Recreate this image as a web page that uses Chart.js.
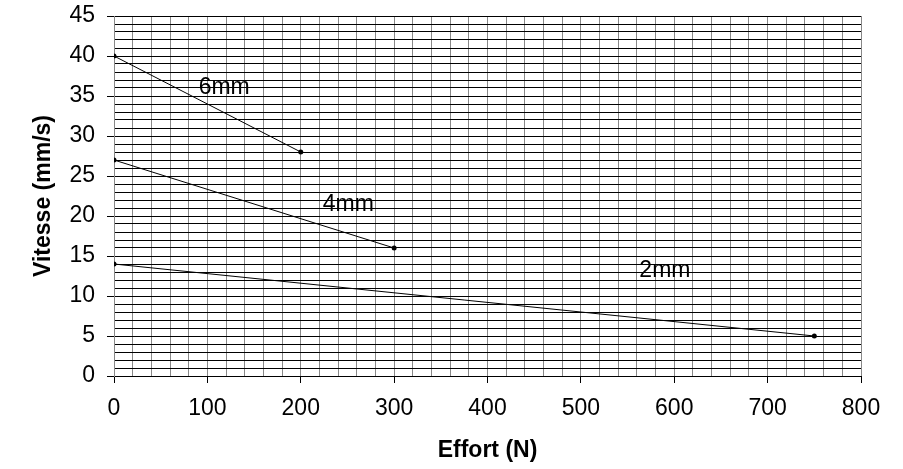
<!DOCTYPE html>
<html>
<head>
<meta charset="utf-8">
<script src="https://cdn.jsdelivr.net/npm/chart.js@4/dist/chart.umd.min.js"></script>
<style>
  html, body { margin: 0; padding: 0; background: #fff; }
  #wrap { width: 903px; height: 469px; }
</style>
</head>
<body>
<div id="wrap"><canvas id="chart"></canvas></div>
<script>
// données
const seriesNames = ['6mm', '4mm', '2mm'];
const effort6 = [0, 200];
const vitesse6 = [40, 28];
const effort4 = [0, 300];
const vitesse4 = [27, 16];
const effort2 = [0, 750];
const vitesse2 = [14, 5];
// position des étiquettes (unités des axes)
const labelX = [118, 251, 590];
const labelY = [36.1, 21.4, 13.2];

const FONT = "'Liberation Sans', Arial, sans-serif";

function toPoints(xs, ys) {
    return xs.map((x, i) => ({ x: x, y: ys[i] }));
}

function lineSet(xs, ys, name) {
    return {
        label: name,
        data: toPoints(xs, ys),
        showLine: true,
        borderColor: '#000',
        borderWidth: 1,
        pointRadius: 2.5,
        pointBackgroundColor: '#000',
        pointBorderWidth: 0
    };
}

// étiquettes de texte sur les courbes
const seriesLabels = {
    id: 'seriesLabels',
    afterDatasetsDraw(chart) {
        const ctx = chart.ctx;
        const xs = chart.scales.x, ys = chart.scales.y;
        ctx.save();
        ctx.font = '23px ' + FONT;
        ctx.fillStyle = '#000';
        ctx.textAlign = 'center';
        ctx.textBaseline = 'middle';
        seriesNames.forEach((n, i) => {
            ctx.fillText(n, xs.getPixelForValue(labelX[i]), ys.getPixelForValue(labelY[i]));
        });
        ctx.restore();
    }
};

new Chart(document.getElementById('chart'), {
    type: 'scatter',
    data: {
        datasets: [
            lineSet(effort6, vitesse6, seriesNames[0]),
            lineSet(effort4, vitesse4, seriesNames[1]),
            lineSet(effort2, vitesse2, seriesNames[2])
        ]
    },
    options: {
        responsive: true,
        maintainAspectRatio: false,
        animation: false,
        layout: { padding: { top: 16, right: 42, left: 0, bottom: 0 } },
        plugins: { legend: { display: false }, tooltip: { enabled: false } },
        scales: {
            x: {
                type: 'linear',
                min: 0,
                max: 800,
                afterFit(scale) {
                    scale.height = 93;
                    scale.paddingLeft = 0;
                    scale.paddingRight = 0;
                },
                ticks: {
                    stepSize: 20,
                    autoSkip: false,
                    maxTicksLimit: 100,
                    maxRotation: 0,
                    padding: 12,
                    color: '#000',
                    font: { family: FONT, size: 23 },
                    callback: v => (v % 100 === 0 ? String(v) : '')
                },
                grid: {
                    color: '#888',
                    lineWidth: 1,
                    tickLength: 7,
                    tickColor: c => (c.tick && c.tick.value % 100 === 0 ? '#000' : 'rgba(0,0,0,0)')
                },
                border: { color: '#000', width: 1 },
                title: {
                    display: true,
                    text: 'Effort (N)',
                    color: '#000',
                    font: { family: FONT, size: 23, weight: 'bold' },
                    padding: { top: 0, bottom: 5 }
                }
            },
            y: {
                type: 'linear',
                min: 0,
                max: 45,
                afterFit(scale) {
                    scale.width = 114;
                    scale.paddingTop = 0;
                    scale.paddingBottom = 0;
                },
                ticks: {
                    stepSize: 1,
                    autoSkip: false,
                    maxTicksLimit: 100,
                    padding: 12,
                    color: '#000',
                    font: { family: FONT, size: 23 },
                    callback: v => (v % 5 === 0 ? String(v) : '')
                },
                grid: {
                    color: '#000',
                    lineWidth: 1,
                    tickLength: 7,
                    tickColor: c => (c.tick && c.tick.value % 5 === 0 ? '#000' : 'rgba(0,0,0,0)')
                },
                border: { color: '#888', width: 1 },
                title: {
                    display: true,
                    text: 'Vitesse (mm/s)',
                    color: '#000',
                    font: { family: FONT, size: 23, weight: 'bold' },
                    padding: { top: 30, bottom: 0 }
                }
            }
        }
    },
    plugins: [seriesLabels]
});
</script>
</body>
</html>
